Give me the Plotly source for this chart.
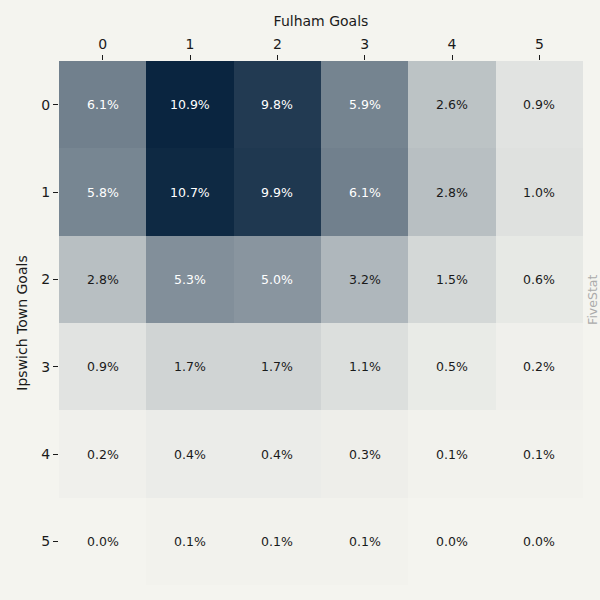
import plotly.graph_objects as go

# score probabilities (%) - rows: Ipswich Town goals, cols: Fulham goals
fulham_goals = ["0", "1", "2", "3", "4", "5"]
ipswich_goals = ["0", "1", "2", "3", "4", "5"]

row_0 = [6.1, 10.9, 9.8, 5.9, 2.6, 0.9]
row_1 = [5.8, 10.7, 9.9, 6.1, 2.8, 1.0]
row_2 = [2.8, 5.3, 5.0, 3.2, 1.5, 0.6]
row_3 = [0.9, 1.7, 1.7, 1.1, 0.5, 0.2]
row_4 = [0.2, 0.4, 0.4, 0.3, 0.1, 0.1]
row_5 = [0.0, 0.1, 0.1, 0.1, 0.0, 0.0]

z = [row_0, row_1, row_2, row_3, row_4, row_5]
zmax = max(max(r) for r in z)

BG = "#f4f4ef"
DARK = "#0a2540"
FONT = "DejaVu Sans"

fig = go.Figure()
fig.add_trace(go.Heatmap(
    z=z,
    x=fulham_goals,
    y=ipswich_goals,
    colorscale=[[0, BG], [1, DARK]],
    zmin=0,
    zmax=zmax,
    showscale=False,
    hoverinfo="skip",
))

# cell labels, white on dark cells
annotations = []
for i, row in enumerate(z):
    for j, v in enumerate(row):
        annotations.append(dict(
            x=fulham_goals[j], y=ipswich_goals[i],
            text=f"{v:.1f}%",
            showarrow=False,
            font=dict(family=FONT, size=12.5,
                      color="white" if v > 0.42 * zmax else "#1a1a1a"),
        ))

# watermark, centred on the figure height
annotations.append(dict(
    xref="paper", yref="paper", x=1.019, y=0.544,
    text="FiveStat", textangle=-90, showarrow=False,
    font=dict(family=FONT, size=12.5, color="#ababab"),
    xanchor="center", yanchor="middle",
))

fig.update_layout(
    width=600, height=600,
    paper_bgcolor=BG,
    plot_bgcolor=BG,
    margin=dict(l=59, r=17, t=61, b=15),
    font=dict(family=FONT, size=14, color="#1a1a1a"),
    annotations=annotations,
    xaxis=dict(
        side="top",
        title=dict(text="Fulham Goals", font=dict(size=14), standoff=6),
        ticks="outside", ticklen=5, tickcolor="#1a1a1a",
        showgrid=False, zeroline=False,
        tickfont=dict(size=14),
    ),
    yaxis=dict(
        autorange="reversed",
        title=dict(text="Ipswich Town Goals", font=dict(size=14), standoff=10),
        ticks="outside", ticklen=5, tickcolor="#1a1a1a",
        showgrid=False, zeroline=False,
        tickfont=dict(size=14),
    ),
)

fig.write_html("out.html", config={"displayModeBar": False},
               post_script="document.body.style.margin='0';")
